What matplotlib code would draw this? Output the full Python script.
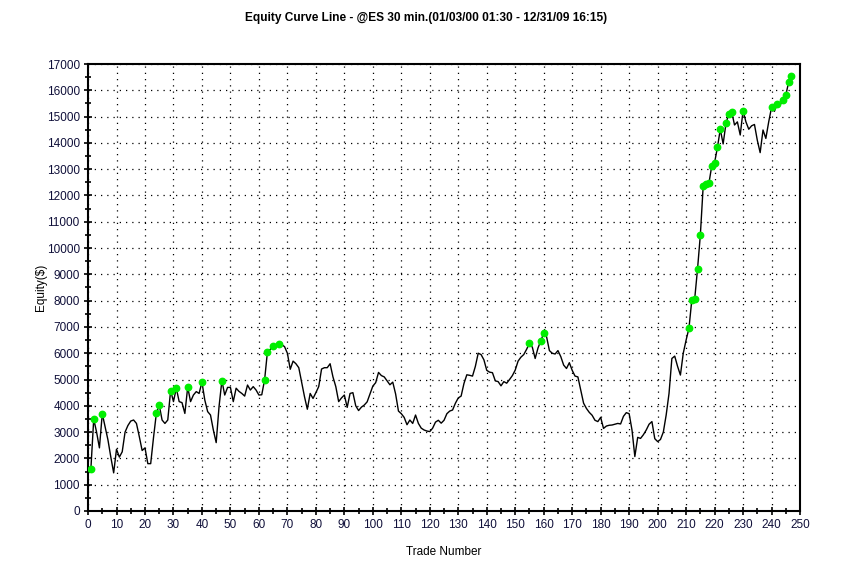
import matplotlib
matplotlib.use("Agg")
import matplotlib.pyplot as plt
from matplotlib.ticker import MultipleLocator

# equity after each trade, trades 1..247
equity = [
    1600, 3500, 3000, 2400, 3700, 3200, 2700, 2050, 1450, 2350,
    2050, 2250, 3000, 3250, 3420, 3460, 3330, 2830, 2300, 2400,
    1800, 1800, 2800, 3720, 4030, 3460, 3330, 3460, 4580, 4160,
    4670, 4160, 4120, 3710, 4710, 4160, 4410, 4540, 4470, 4900,
    4220, 3780, 3650, 3080, 2600, 3970, 4960, 4410, 4700, 4700,
    4160, 4670, 4550, 4470, 4370, 4790, 4600, 4730, 4600, 4410,
    4420, 4990, 6060, 6150, 6270, 6300, 6350, 6330, 6250, 6000,
    5390, 5700, 5600, 5450, 4900, 4350, 3870, 4470, 4280, 4500,
    4730, 5400, 5450, 5450, 5600, 5100, 4730, 4160, 4300, 4410,
    3940, 4470, 4500, 4000, 3820, 3950, 4030, 4150, 4450, 4750,
    4880, 5270, 5150, 5100, 4950, 4800, 4900, 4450, 3800, 3700,
    3560, 3280, 3460, 3330, 3650, 3330, 3150, 3080, 3040, 3020,
    3150, 3380, 3450, 3340, 3450, 3700, 3800, 3840, 4100, 4300,
    4370, 4850, 5180, 5160, 5130, 5500, 6000, 5950, 5750, 5350,
    5280, 5260, 4950, 4920, 4760, 4920, 4860, 5000, 5150, 5360,
    5700, 5850, 5950, 6150, 6380, 6230, 5800, 6200, 6480, 6760,
    6630, 6100, 6000, 5970, 6100, 5870, 5550, 5420, 5640, 5350,
    5130, 5100, 4600, 4100, 3900, 3750, 3640, 3450, 3400, 3560,
    3140, 3230, 3260, 3270, 3300, 3330, 3310, 3600, 3740, 3700,
    3080, 2070, 2800, 2760, 2900, 3080, 3300, 3400, 2750, 2640,
    2720, 3000, 3650, 4470, 5800, 5890, 5500, 5170, 6000, 6500,
    6950, 8025, 8050, 9190, 10500, 12360, 12430, 12460, 13120, 13250,
    13830, 14520, 13960, 14745, 15100, 15190, 14680, 14800, 14300, 15230,
    14800, 14520, 14650, 14700, 14100, 13630, 14490, 14170, 14800, 15350,
    15200, 15480, 15440, 15630, 15820, 16300, 16540,
]
trades = list(range(1, len(equity) + 1))

# trades that set a new equity high (green dots)
high_trades = [1, 2, 5, 24, 25, 29, 31, 35, 40, 47, 62, 63, 65, 67, 155, 159, 160,
               211, 212, 213, 214, 215, 216, 217, 218, 219, 220, 221, 222, 224,
               225, 226, 230, 240, 242, 244, 245, 246, 247]
high_equity = [equity[t - 1] for t in high_trades]

title = "Equity Curve Line - @ES 30 min.(01/03/00 01:30 - 12/31/09 16:15)"
narrow = ["Liberation Sans Narrow", "Liberation Sans", "DejaVu Sans"]
tick_color = "#10103a"

fig = plt.figure(figsize=(8.53, 5.67), dpi=100)
ax = fig.add_axes([0.1032, 0.0988, 0.8347, 0.7883])

ax.plot(trades, equity, color="black", lw=1.0, zorder=3)
ax.plot(high_trades, high_equity, "o", color="#00ee00", ms=4.6, mec="#00ee00", zorder=4)

ax.set_xlim(0, 250)
ax.set_ylim(0, 17000)
ax.xaxis.set_major_locator(MultipleLocator(10))
ax.xaxis.set_minor_locator(MultipleLocator(5))
ax.yaxis.set_major_locator(MultipleLocator(1000))
ax.yaxis.set_minor_locator(MultipleLocator(500))
ax.grid(True, which="major", color="black", linestyle=(0, (1, 4)), lw=0.9)
ax.tick_params(which="both", direction="inout", color="black", width=1.2)
ax.tick_params(which="major", length=6, labelsize=8.5, labelcolor=tick_color, pad=3)
ax.tick_params(which="minor", length=4)
for lab in ax.get_xticklabels() + ax.get_yticklabels():
    lab.set_family("Liberation Sans")
for s in ax.spines.values():
    s.set_linewidth(1.5)

fig.text(0.5, 0.968, title, ha="center", va="center", fontsize=8.6,
         fontweight="bold", family=narrow)
ax.set_xlabel("Trade Number", fontsize=8.5, family="Liberation Sans")
ax.set_ylabel("Equity($)", fontsize=8.5, family="Liberation Sans")
ax.xaxis.set_label_coords(0.5, -0.078)
ax.yaxis.set_label_coords(-0.058, 0.5)

fig.savefig("out.png", dpi=100)
plt.close(fig)
